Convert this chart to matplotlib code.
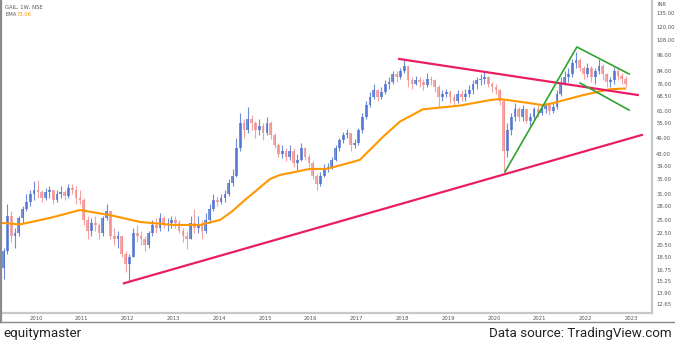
import numpy as np
import pandas as pd
import matplotlib
matplotlib.use("Agg")
import matplotlib.pyplot as plt
from matplotlib.lines import Line2D

# Monthly OHLC, Apr 2009 .. Nov 2022 (INR)
first_open = 17.0
close = [
    19.5, 26.0, 22.0, 22.5, 25.5, 27.5, 29.0, 31.0, 32.0,                 # 2009
    31.5, 30.0, 31.5, 32.0, 29.5, 31.0, 31.5, 30.5, 32.5, 32.0, 30.0, 29.5,  # 2010
    25.0, 23.0, 24.5, 24.0, 22.5, 25.5, 27.0, 22.0, 21.5, 22.0, 19.0, 17.5,  # 2011
    18.5, 22.5, 22.0, 21.5, 20.5, 22.5, 24.0, 23.5, 25.5, 24.5, 24.5, 25.0,  # 2012
    24.5, 23.0, 22.0, 21.5, 24.5, 23.5, 24.0, 23.0, 25.0, 27.5, 29.5, 29.0,  # 2013
    30.0, 31.0, 34.0, 36.0, 45.0, 55.0, 52.0, 57.0, 55.0, 52.0, 54.0, 51.0,  # 2014
    55.0, 50.0, 46.0, 43.0, 44.0, 42.0, 44.0, 40.0, 41.0, 45.0, 42.0, 40.0,  # 2015
    36.0, 33.5, 36.0, 38.0, 38.5, 41.0, 45.0, 48.0, 50.0, 51.0, 46.0, 47.0,  # 2016
    52.0, 58.0, 64.0, 68.0, 72.0, 68.0, 71.0, 76.0, 77.0, 82.0, 80.0, 84.0,  # 2017
    88.0, 78.0, 76.0, 78.0, 77.0, 75.0, 79.0, 78.0, 74.0, 68.0, 70.0, 71.0,  # 2018
    68.0, 66.0, 70.0, 68.0, 70.0, 72.0, 76.0, 78.0, 79.0, 80.0, 76.0, 74.0,  # 2019
    72.0, 66.0, 44.0, 52.0, 58.0, 62.0, 58.0, 62.0, 56.0, 58.0, 62.0, 60.0,  # 2020
    62.0, 64.0, 61.0, 63.0, 70.0, 76.0, 80.0, 82.0, 90.0, 92.0, 86.0, 82.0,  # 2021
    86.0, 80.0, 84.0, 88.0, 82.0, 77.0, 78.0, 84.0, 81.0, 79.0, 76.0,        # 2022
]
high = [
    20.0, 28.5, 27.0, 23.5, 26.0, 28.0, 31.0, 32.0, 34.5,
    34.7, 32.0, 32.5, 33.0, 32.0, 32.0, 33.0, 32.0, 33.5, 33.5, 33.0, 32.0,
    30.0, 26.0, 25.5, 26.0, 24.5, 26.0, 28.5, 27.0, 23.5, 23.0, 22.0, 19.5,
    19.0, 23.5, 24.0, 23.0, 22.0, 23.0, 25.0, 25.5, 26.5, 26.0, 25.5, 26.0,
    26.0, 25.0, 23.5, 23.0, 26.0, 27.5, 26.0, 25.0, 26.5, 28.5, 31.0, 30.5,
    31.0, 32.0, 35.0, 38.0, 49.0, 60.0, 57.0, 63.0, 59.0, 56.0, 57.0, 55.0,
    58.0, 56.0, 51.0, 47.0, 46.0, 45.0, 46.0, 45.0, 43.0, 47.0, 45.5, 43.0,
    40.5, 36.5, 37.0, 39.5, 40.0, 42.0, 46.0, 49.0, 51.5, 52.5, 51.0, 48.5,
    53.0, 60.0, 66.0, 71.0, 76.0, 73.0, 74.0, 78.0, 80.0, 84.0, 84.0, 86.0,
    92.0, 88.0, 80.0, 81.0, 80.0, 79.0, 83.0, 81.0, 79.0, 75.0, 72.0, 73.0,
    72.0, 70.0, 72.0, 72.0, 73.0, 75.0, 78.0, 80.0, 82.0, 84.0, 81.0, 77.0,
    76.0, 73.0, 67.0, 55.0, 60.0, 65.0, 63.0, 64.0, 62.0, 60.0, 63.0, 64.0,
    64.0, 65.0, 65.0, 65.0, 72.0, 80.0, 84.0, 86.0, 93.0, 98.0, 94.0, 88.0,
    90.0, 88.0, 86.0, 93.0, 89.0, 83.0, 80.0, 87.0, 86.0, 83.0, 81.0,
]
low = [
    15.5, 19.0, 21.0, 20.0, 22.0, 24.5, 27.0, 28.0, 29.5,
    30.0, 29.0, 29.5, 30.0, 28.5, 29.0, 30.0, 29.5, 30.0, 31.0, 28.5, 28.5,
    24.0, 21.5, 22.0, 23.0, 21.5, 22.0, 25.0, 21.5, 20.5, 20.0, 18.5, 16.5,
    15.3, 18.5, 21.0, 20.5, 19.5, 20.0, 22.0, 22.5, 23.0, 23.5, 23.0, 23.5,
    23.5, 22.5, 21.0, 19.8, 21.5, 22.5, 22.5, 21.5, 22.5, 24.5, 27.0, 28.0,
    28.5, 29.0, 30.5, 33.0, 35.5, 44.0, 49.0, 51.0, 52.0, 49.0, 50.0, 48.0,
    50.0, 48.5, 45.0, 42.0, 41.5, 40.5, 41.0, 38.5, 37.7, 40.5, 41.0, 38.5,
    35.0, 32.0, 33.0, 35.5, 37.0, 38.0, 40.5, 44.0, 47.0, 49.0, 44.0, 45.0,
    46.0, 51.0, 57.0, 63.0, 67.0, 66.0, 67.0, 70.0, 73.0, 76.0, 77.0, 79.0,
    83.0, 74.0, 73.0, 75.0, 74.0, 72.0, 74.0, 75.0, 71.0, 63.0, 66.0, 68.0,
    65.0, 64.0, 65.0, 66.0, 66.0, 68.0, 70.0, 73.0, 75.0, 76.0, 74.0, 71.0,
    70.0, 64.0, 37.0, 42.0, 50.0, 56.0, 56.0, 56.0, 55.0, 54.0, 57.0, 58.0,
    59.0, 60.0, 59.0, 60.0, 62.0, 69.0, 75.0, 77.0, 80.0, 86.0, 84.0, 79.0,
    80.0, 77.0, 76.0, 82.0, 78.0, 74.0, 74.0, 76.0, 78.0, 76.0, 74.0,
]

# EMA curve (decimal year, value)
ema_t = [2009.26, 2009.65, 2010.30, 2010.96, 2011.62, 2012.27, 2012.99, 2013.58,
         2014.02, 2014.28, 2014.56, 2015.11, 2015.33, 2015.98, 2016.35, 2016.86,
         2017.07, 2017.58, 2017.95, 2018.45, 2019.26, 2019.91, 2020.13, 2020.63,
         2021.07, 2021.29, 2021.94, 2022.53, 2022.86]
ema_v = [24.5, 24.2, 25.5, 27.2, 26.1, 24.7, 24.1, 24.1,
         25.1, 26.9, 29.5, 35.0, 36.2, 38.0, 38.0, 40.0,
         40.9, 49.4, 55.9, 61.7, 63.6, 66.5, 67.1, 65.4,
         63.8, 64.9, 69.2, 72.6, 73.06]

# trend lines
support_t, support_v = [2011.92, 2023.23], [15.0, 50.1]
resist_t, resist_v = [2017.93, 2023.14], [92.9, 69.3]
rise_t, rise_v = [2020.24, 2021.81, 2022.95], [37.1, 102.4, 82.2]
chan_t, chan_v = [2021.88, 2022.95], [76.4, 61.3]

yticks = [12.65, 13.90, 15.25, 16.75, 18.50, 20.50, 22.50, 25.00, 28.00, 31.00,
          35.00, 39.00, 43.00, 49.00, 55.00, 61.00, 68.50, 76.00, 84.00, 96.00,
          108.00, 120.00, 135.00]
years = list(range(2010, 2024))

months = pd.period_range("2009-04", "2022-11", freq="M")
t = np.array([p.year + (p.month - 0.5) / 12 for p in months])
close = np.array(close)
high = np.array(high)
low = np.array(low)
opn = np.concatenate([[first_open], close[:-1]])

W, H = 675, 344
fig = plt.figure(figsize=(W / 100, H / 100), dpi=100)
ax = fig.add_axes([2 / W, 1 - 313 / H, 650 / W, 312 / H])

UP, DOWN = "#4a6fd0", "#f28b8b"
up = close >= opn
cols = np.where(up, UP, DOWN)
ax.vlines(t, low, high, colors=cols, linewidth=0.8, alpha=0.8, zorder=2)
body_lo = np.minimum(opn, close)
body_hi = np.maximum(opn, close)
ax.bar(t, body_hi - body_lo, bottom=body_lo, width=0.06, color=cols,
       alpha=0.75, linewidth=0, zorder=2)

ax.plot(ema_t, ema_v, color="#ff9800", linewidth=1.5, zorder=3)
ax.plot(support_t, support_v, color="#e91e63", linewidth=1.6, zorder=4)
ax.plot(resist_t, resist_v, color="#e91e63", linewidth=1.6, zorder=4)
ax.plot(rise_t, rise_v, color="#2fa32f", linewidth=1.2, zorder=4)
ax.plot(chan_t, chan_v, color="#2fa32f", linewidth=1.2, zorder=4)

ax.set_yscale("log")
ax.set_ylim(11.78, 148.8)
ax.set_xlim(2009.258, 2023.45)
ax.yaxis.tick_right()
ax.set_yticks(yticks)
ax.set_yticklabels([f"{v:.2f}" for v in yticks])
ax.yaxis.set_minor_locator(matplotlib.ticker.NullLocator())
ax.set_xticks(years)
ax.set_xticklabels([str(y) for y in years])
ax.tick_params(axis="both", length=0, labelsize=3.8, labelcolor="#555555")
ax.tick_params(axis="y", pad=3.0)
ax.tick_params(axis="x", pad=2.5)
for side in ("top", "left"):
    ax.spines[side].set_visible(False)
for side in ("right", "bottom"):
    ax.spines[side].set_color("#c8c8c8")
    ax.spines[side].set_linewidth(1.6)

fig.text(657 / W, 1 - 5 / H, "INR", fontsize=3.8, color="#555555", va="center")
fig.text(5 / W, 1 - 7 / H, "GAIL, 1W, NSE", fontsize=3.8, color="#555555", va="center")
fig.text(5 / W, 1 - 14 / H, "EMA", fontsize=3.8, color="#555555", va="center")
fig.text(17 / W, 1 - 14 / H, "73.06", fontsize=3.8, color="#ff9800", va="center")

# chart frame
fig.add_artist(Line2D([0.8 / W, 0.8 / W], [1, 1 - 322 / H], color="#8a8a8a", linewidth=1.6))
fig.add_artist(Line2D([0, 1], [1 - 322 / H, 1 - 322 / H], color="#8a8a8a", linewidth=1.0))

foot = ["Liberation Sans Narrow", "Roboto", "DejaVu Sans"]
fig.text(3 / W, 1 - 334 / H, "equitymaster", fontsize=9.6, color="#222222",
         va="center", ha="left", family=foot)
fig.text(672 / W, 1 - 334 / H, "Data source: TradingView.com", fontsize=9.6,
         color="#222222", va="center", ha="right", family=foot)

fig.savefig("out.png", dpi=100)
